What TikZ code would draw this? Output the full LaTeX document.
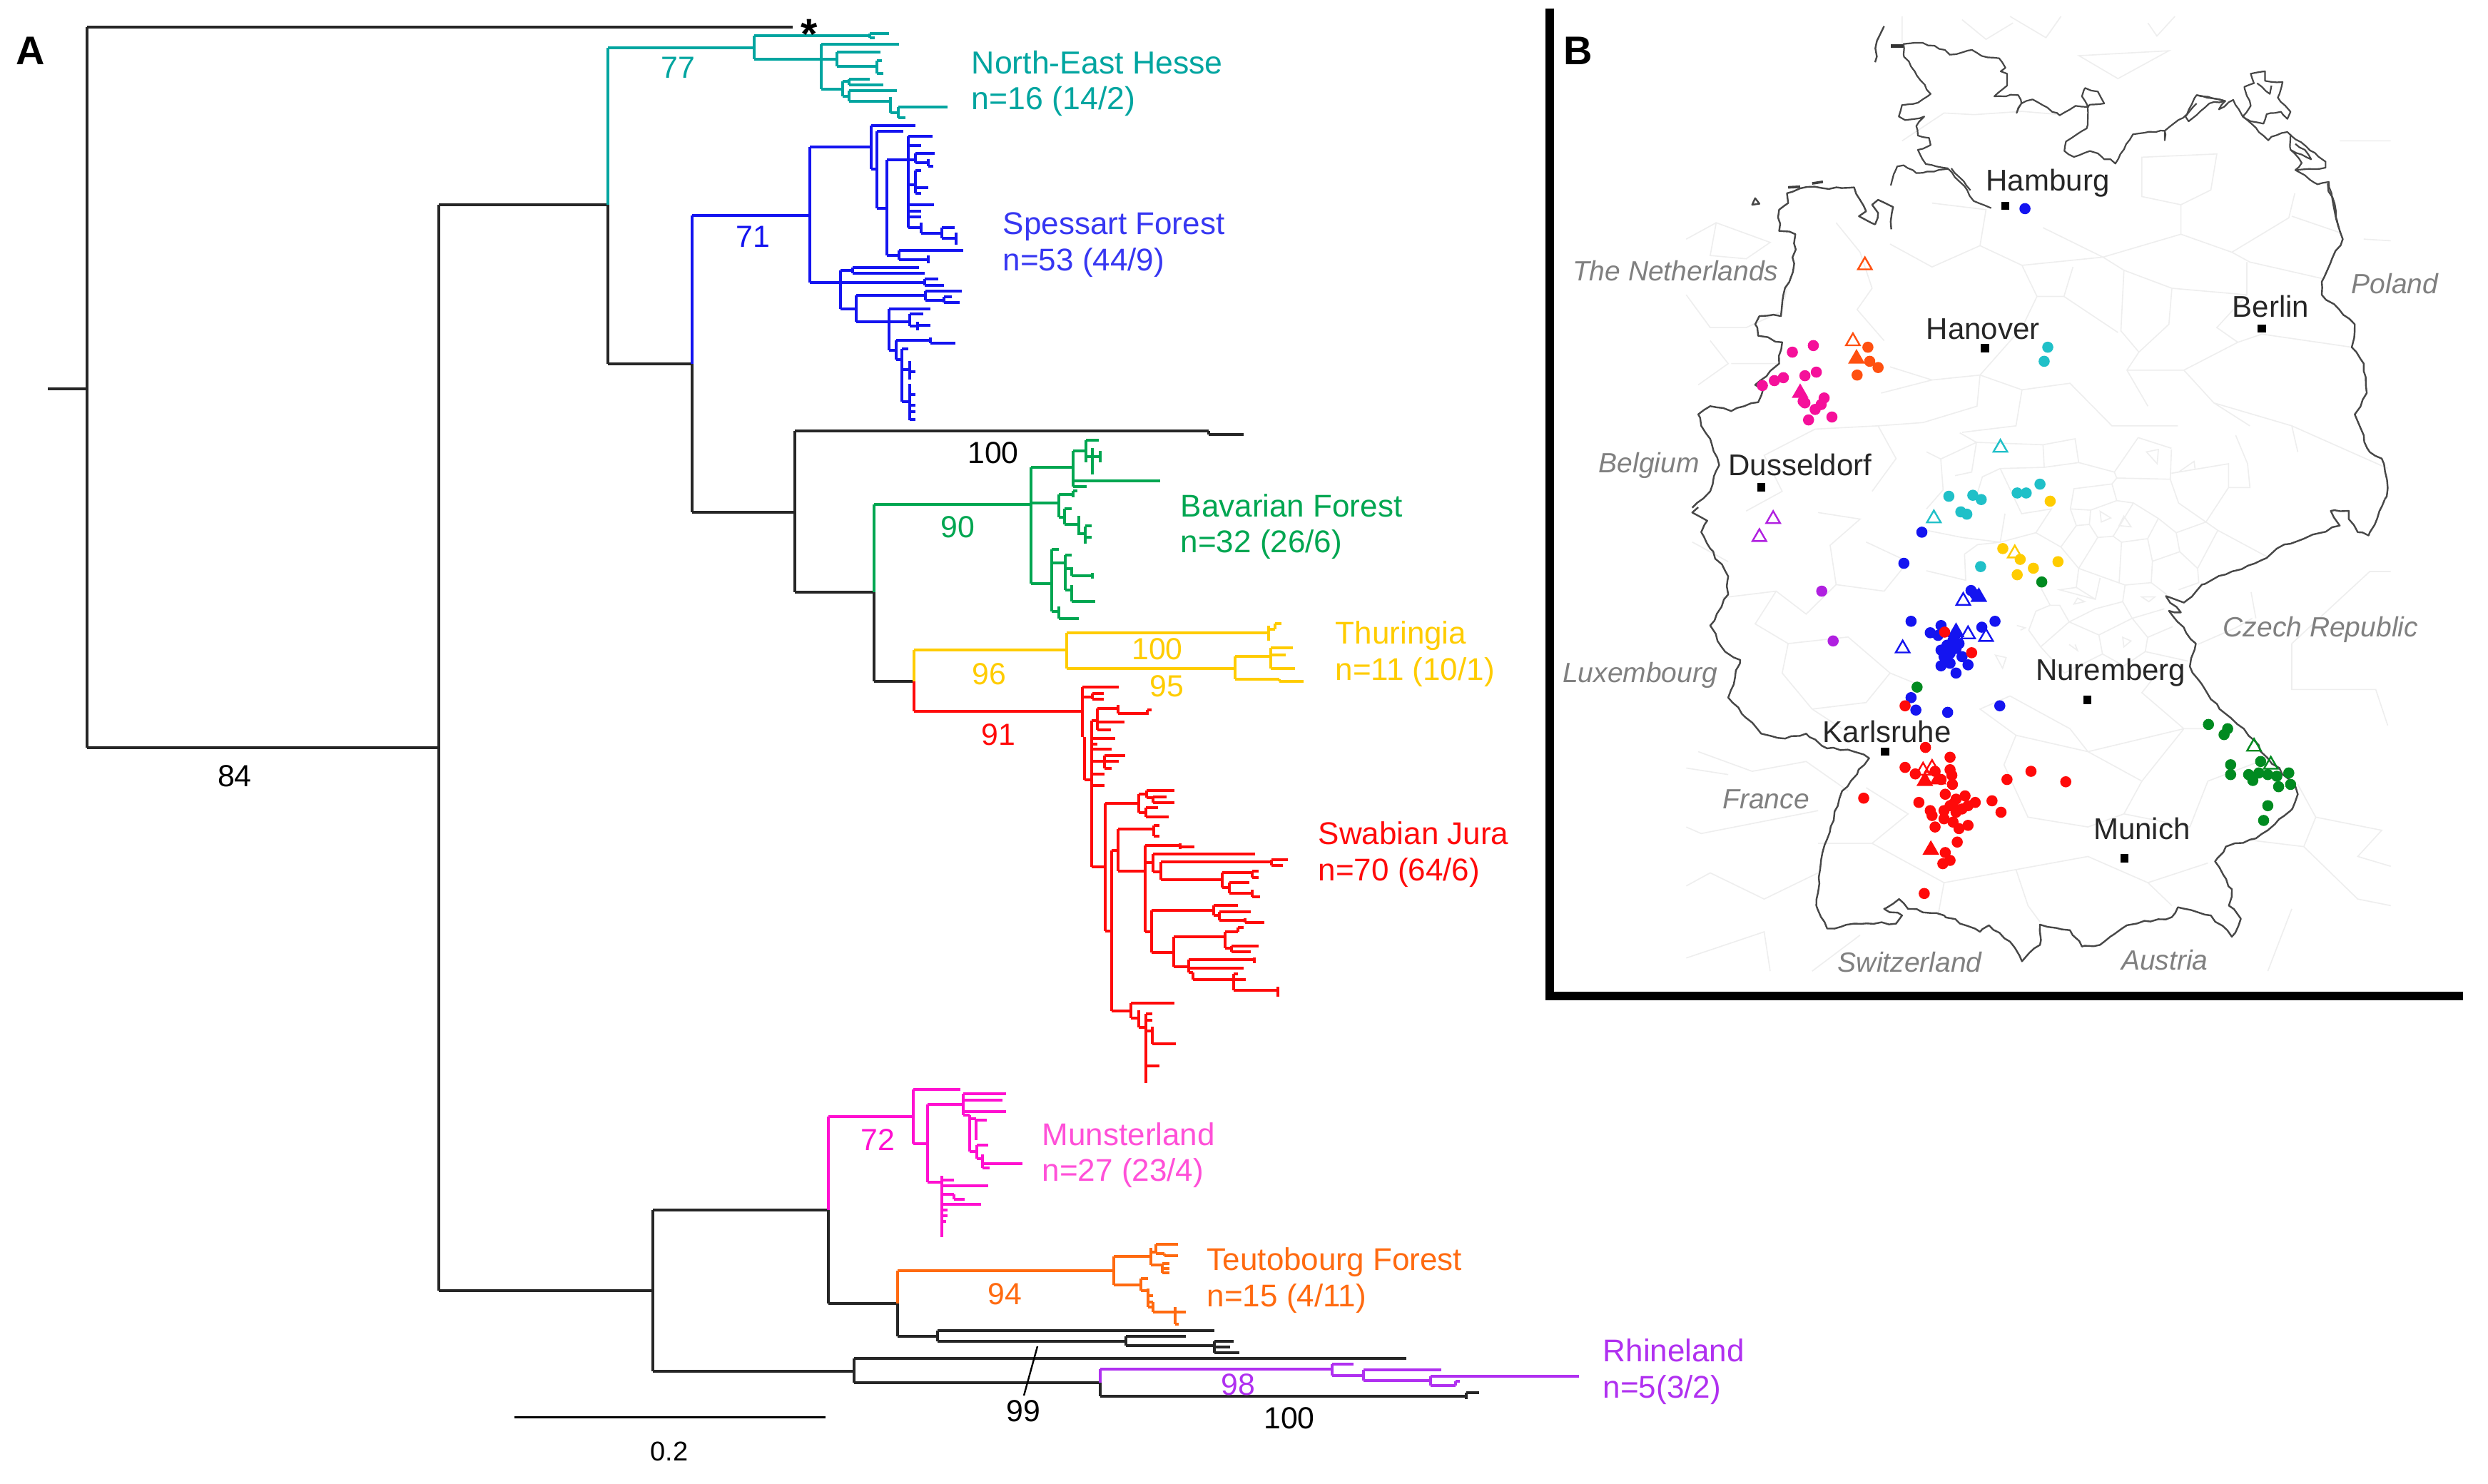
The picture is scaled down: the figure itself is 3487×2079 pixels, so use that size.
\documentclass[tikz,border=0pt]{standalone}
\usepackage{fontspec}
\setmainfont{Liberation Sans}
\usetikzlibrary{shapes.geometric,decorations.pathmorphing}
\definecolor{cteal}{HTML}{00A5A0}
\definecolor{cblue}{HTML}{1414F0}
\definecolor{cgreen}{HTML}{00A651}
\definecolor{cyell}{HTML}{FFCC00}
\definecolor{cred}{HTML}{FF0A0A}
\definecolor{cmag}{HTML}{FF10D0}
\definecolor{cmagl}{HTML}{FF50D8}
\definecolor{corg}{HTML}{FF6A10}
\definecolor{cpur}{HTML}{B030F0}
\definecolor{mpink}{HTML}{F5109A}
\definecolor{morg}{HTML}{FF5010}
\definecolor{mcyan}{HTML}{20C0C8}
\definecolor{mgreen}{HTML}{008A20}
\definecolor{mpur}{HTML}{B020E0}
\definecolor{mlight}{HTML}{EEEEEE}
\definecolor{cntry}{HTML}{808080}
\newcommand{\treepart}[3]{%
  \foreach \yy/\xa/\xb in {#2} \draw[treeline,#1] (\xa,\yy) -- (\xb,\yy);
  \foreach \xx/\ya/\yb in {#3} \draw[treeline,#1] (\xx,\ya) -- (\xx,\yb);}
\newcommand{\mdots}[3]{\foreach \xx/\yy [count=\ii] in {#3} \node[mdot,fill=#2] (#1\ii) at (\xx,\yy) {};}
\newcommand{\mfill}[3]{\foreach \xx/\yy [count=\ii] in {#3} \node[mtri,fill=#2,draw=#2] (#1\ii) at (\xx,\yy) {};}
\newcommand{\mopen}[3]{\foreach \xx/\yy [count=\ii] in {#3} \node[mtri,draw=#2] (#1\ii) at (\xx,\yy) {};}
\newcommand{\mcity}[2]{\foreach \xx/\yy [count=\ii] in {#2} \node[msq] (#1\ii) at (\xx,\yy) {};}
\tikzset{
  treeline/.style={line width=1pt,line cap=square},
  clade/.style={anchor=base west,font=\fontsize{11}{11}\selectfont,inner sep=0pt},
  num/.style={font=\fontsize{10.7}{11}\selectfont,inner sep=0pt},
  city/.style={font=\fontsize{10.5}{11}\selectfont,inner sep=0pt,text=black!85},
  country/.style={font=\fontsize{9.75}{11}\selectfont\itshape,inner sep=0pt,text=cntry},
  panel/.style={font=\fontsize{14}{14}\selectfont\bfseries,inner sep=0pt},
  mdot/.style={circle,inner sep=0pt,minimum size=3.9pt},
  mtri/.style={regular polygon,regular polygon sides=3,inner sep=0pt,minimum size=5.6pt,line width=0.6pt},
  msq/.style={rectangle,fill=black,inner sep=0pt,minimum size=2.9pt},
  border/.style={draw=black!72,line width=0.6pt,line join=round,decorate,decoration={random steps,segment length=2.5pt,amplitude=0.5pt}},
  fineborder/.style={draw=black!72,line width=0.55pt,line join=round,decorate,decoration={random steps,segment length=2pt,amplitude=0.3pt}},
  vor/.style={draw=mlight,line width=0.4pt},
  z5/.style={shift={(2170,0)},xscale=0.8403,yscale=0.4591},
  z6/.style={shift={(2170,700)},xscale=0.8403,yscale=0.4591},
  z7/.style={shift={(2650,20)},xscale=0.4464,yscale=0.3333},
  z8/.style={shift={(2700,600)},xscale=0.3333,yscale=0.3333}
}
\begin{document}
\begin{tikzpicture}[x=0.25pt,y=-0.25pt]
\useasboundingbox[fill=white] (0,0) rectangle (3487,2079);
\pgfmathsetseed{7}
% ---------- tree: backbone
\treepart{black!85}{545/67/122,38/122/1111,1048/122/615,287/615/852,510/852/970,718/970/1114,604/1114/1694,609/1694/1743,830/1114/1225,955/1225/1281,1809/615/915,1696/915/1161,1827/1161/1258,1873/1258/1314,1865/1314/1702,1880/1314/1578,1873/1578/1662,1886/1578/1702,1880/1702/1729,1896/1702/1737,1888/1702/1724,1922/915/1197,1904/1197/1971,1938/1197/1542,1957/1542/2055,1952/2055/2073}{122/38/1048,615/287/1809,852/287/510,970/510/718,1114/604/830,1694/604/609,1225/830/955,915/1696/1922,1161/1696/1827,1258/1827/1873,1314/1865/1880,1578/1873/1886,1702/1880/1896,1197/1904/1938,1542/1938/1957,2055/1952/1961}
% teal
\treepart{cteal}{67/852/1057,50/1057/1219,47/1219/1246,53/1219/1226,83/1057/1151,62/1151/1260,83/1151/1173,73/1173/1234,93/1173/1229,85/1229/1236,103/1229/1238,125/1151/1181,114/1181/1190,111/1190/1219,119/1190/1238,135/1181/1190,127/1190/1257,142/1190/1248,158/1248/1259,150/1259/1328,165/1259/1269}{852/67/287,1057/50/83,1219/47/53,1151/62/125,1173/73/93,1229/85/103,1181/114/135,1190/111/119,1190/127/142,1248/136/158,1259/150/165}
% blue
\treepart{cblue}{302/970/1135,206/1135/1221,176/1221/1283,237/1221/1229,184/1229/1266,292/1229/1243,224/1243/1273,191/1273/1307,204/1273/1291,224/1273/1283,215/1283/1310,228/1283/1301,233/1301/1308,259/1273/1283,239/1283/1291,263/1283/1301,271/1283/1291,287/1273/1309,296/1273/1291,304/1273/1291,319/1273/1291,327/1291/1320,319/1320/1338,334/1320/1340,358/1243/1260,351/1260/1350,364/1260/1301,396/1135/1296,379/1178/1195,375/1195/1288,383/1195/1296,391/1296/1315,400/1296/1323,433/1178/1200,414/1200/1297,408/1297/1348,421/1297/1323,416/1323/1334,424/1323/1345,451/1200/1246,433/1246/1304,451/1246/1275,440/1275/1294,457/1275/1286,456/1286/1304,491/1246/1256,477/1256/1304,481/1304/1339,504/1256/1264,489/1264/1273,518/1264/1275,521/1275/1283,563/1264/1275,553/1275/1283,568/1275/1283,577/1275/1283,588/1275/1283}{970/302/510,1135/206/396,1221/176/237,1229/184/292,1243/224/358,1273/191/319,1283/215/228,1301/223/233,1283/239/271,1291/312/327,1320/319/334,1340/326/343,1260/351/364,1301/358/369,1178/379/433,1195/375/383,1296/391/400,1200/414/451,1297/408/421,1323/416/424,1246/433/491,1275/440/457,1286/451/463,1256/477/504,1304/473/481,1264/489/563,1275/506/532,1275/538/589}
% green
\treepart{cgreen}{707/1225/1445,655/1445/1504,632/1504/1522,617/1522/1540,640/1522/1542,682/1504/1523,674/1504/1626,705/1445/1484,693/1484/1504,688/1504/1510,725/1484/1492,713/1492/1502,735/1492/1512,748/1512/1521,737/1521/1530,753/1521/1530,818/1445/1474,770/1474/1484,789/1474/1493,778/1493/1502,797/1493/1502,807/1502/1531,827/1493/1502,843/1502/1535,857/1474/1484,867/1484/1512}{1225/707/830,1445/655/818,1504/632/682,1522/617/648,1531/628/665,1542/632/648,1484/693/725,1504/688/697,1492/713/735,1512/723/750,1521/738/762,1474/770/857,1493/778/827,1502/795/807,1531/803/811,1502/820/843,1484/850/867}
% yellow
\treepart{cyell}{911/1281/1495,887/1495/1778,882/1778/1787,874/1787/1796,937/1495/1731,920/1731/1781,908/1781/1812,918/1781/1802,937/1781/1815,952/1731/1793,955/1793/1827}{1281/911/955,1495/887/937,1778/877/898,1787/874/882,1731/920/952,1781/908/937,1793/952/955}
% red
\treepart{cred}{997/1281/1517,963/1517/1568,977/1517/1531,972/1531/1547,980/1531/1547,1093/1520/1530,1010/1530/1538,993/1538/1567,1000/1567/1608,995/1608/1614,1012/1538/1576,1023/1538/1557,1035/1530/1563,1043/1530/1538,1050/1530/1558,1067/1530/1548,1059/1548/1577,1067/1548/1568,1077/1548/1558,1085/1530/1548,1101/1530/1548,1215/1530/1549,1126/1549/1596,1113/1596/1607,1108/1607/1646,1118/1607/1616,1117/1616/1635,1125/1616/1646,1139/1596/1606,1132/1606/1623,1145/1606/1638,1305/1549/1558,1192/1558/1567,1162/1567/1617,1157/1617/1625,1172/1617/1625,1221/1567/1605,1185/1605/1654,1187/1654/1674,1209/1605/1616,1197/1616/1759,1222/1616/1627,1208/1627/1782,1205/1782/1805,1213/1782/1798,1233/1627/1713,1223/1713/1755,1221/1755/1764,1230/1755/1764,1244/1713/1723,1237/1723/1751,1252/1723/1755,1257/1755/1766,1306/1605/1614,1276/1614/1701,1269/1701/1735,1283/1701/1709,1278/1709/1753,1290/1709/1745,1293/1745/1772,1335/1614/1645,1313/1645/1717,1306/1717/1735,1300/1735/1743,1329/1717/1726,1326/1726/1764,1334/1726/1753,1355/1645/1666,1345/1666/1758,1357/1666/1743,1363/1666/1672,1373/1672/1729,1365/1729/1735,1373/1729/1746,1388/1729/1791,1417/1558/1585,1406/1585/1646,1427/1585/1596,1440/1596/1606,1421/1606/1615,1430/1606/1615,1445/1606/1615,1463/1615/1648,1494/1606/1625}{1281/955/997,1517/963/1033,1520/1033/1093,1531/972/980,1530/1010/1215,1538/993/1023,1567/988/1000,1608/995/1002,1548/1059/1077,1549/1126/1305,1596/1113/1139,1607/1108/1118,1616/1117/1125,1606/1132/1145,1558/1192/1417,1567/1162/1221,1617/1157/1172,1605/1185/1306,1654/1182/1190,1616/1197/1222,1627/1208/1233,1782/1205/1213,1713/1223/1244,1755/1221/1230,1723/1237/1252,1755/1247/1257,1614/1276/1335,1701/1269/1283,1709/1278/1290,1745/1287/1293,1645/1313/1355,1717/1306/1329,1735/1300/1306,1726/1326/1334,1666/1345/1363,1758/1342/1350,1672/1363/1373,1729/1365/1388,1791/1383/1397,1585/1406/1427,1596/1416/1440,1606/1421/1518,1615/1439/1463}
% magenta
\treepart{cmag}{1565/1161/1280,1527/1280/1346,1603/1280/1300,1548/1300/1350,1533/1350/1410,1542/1350/1405,1558/1350/1410,1563/1350/1359,1568/1359/1368,1570/1368/1383,1614/1359/1369,1605/1369/1385,1624/1369/1377,1631/1377/1433,1637/1377/1387,1657/1300/1320,1654/1320/1337,1662/1320/1385,1674/1320/1337,1681/1337/1352,1688/1320/1375,1696/1320/1328,1704/1320/1328,1712/1320/1326}{1161/1565/1696,1280/1527/1603,1300/1548/1657,1350/1533/1563,1359/1563/1614,1368/1568/1598,1369/1605/1624,1377/1618/1637,1320/1648/1734,1337/1674/1681}
% orange
\treepart{corg}{1781/1258/1561,1761/1561/1613,1755/1613/1620,1744/1620/1651,1757/1620/1632,1760/1632/1651,1773/1613/1629,1771/1629/1639,1778/1629/1639,1784/1629/1639,1801/1561/1599,1792/1599/1609,1809/1599/1609,1816/1609/1616,1825/1609/1616,1832/1609/1616,1839/1616/1662,1856/1647/1652}{1258/1781/1827,1561/1761/1801,1613/1749/1773,1620/1744/1757,1632/1757/1760,1629/1771/1784,1599/1792/1809,1609/1806/1832,1616/1825/1839,1647/1832/1856}
% purple
\treepart{cpur}{1919/1542/1867,1912/1867/1897,1928/1867/1911,1920/1911/2020,1935/1911/2005,1929/2005/2213,1942/2005/2040,1936/2040/2046}{1542/1919/1938,1867/1912/1928,1911/1920/1935,2005/1929/1942,2040/1936/1942}
% ---------- labels of panel A
\node[panel] (lA) at (43,71) {A};
\node[font=\fontsize{15}{15}\selectfont\bfseries,inner sep=0pt] (star) at (1134,48) {*};
\node[clade,text=cteal,font=\fontsize{11.15}{12}\selectfont] (t1a) at (1361,103) {North-East Hesse};
\node[clade,text=cteal,font=\fontsize{11.15}{12}\selectfont] (t1b) at (1361,153) {n=16 (14/2)};
\node[clade,text=cblue!85!white] (t2a) at (1405,328) {Spessart Forest};
\node[clade,text=cblue!85!white] (t2b) at (1405,379) {n=53 (44/9)};
\node[clade,text=cgreen] (t3a) at (1654,724) {Bavarian Forest};
\node[clade,text=cgreen] (t3b) at (1654,774) {n=32 (26/6)};
\node[clade,text=cyell] (t4a) at (1871,902) {Thuringia};
\node[clade,text=cyell] (t4b) at (1871,953) {n=11 (10/1)};
\node[clade,text=cred] (t5a) at (1847,1183) {Swabian Jura};
\node[clade,text=cred] (t5b) at (1847,1234) {n=70 (64/6)};
\node[clade,text=cmagl] (t6a) at (1460,1605) {Munsterland};
\node[clade,text=cmagl] (t6b) at (1460,1655) {n=27 (23/4)};
\node[clade,text=corg] (t7a) at (1691,1780) {Teutobourg Forest};
\node[clade,text=corg] (t7b) at (1691,1831) {n=15 (4/11)};
\node[clade,text=cpur] (t8a) at (2246,1908) {Rhineland};
\node[clade,text=cpur] (t8b) at (2246,1959) {n=5(3/2)};
\node[num,text=cteal] (n77) at (950,95) {77};
\node[num,text=cblue] (n71) at (1055,332) {71};
\node[num] (n100a) at (1392,635) {100};
\node[num,text=cgreen] (n90) at (1342,739) {90};
\node[num,text=cyell] (n100b) at (1622,910) {100};
\node[num,text=cyell] (n96) at (1386,945) {96};
\node[num,text=cyell] (n95) at (1635,962) {95};
\node[num,text=cred] (n91) at (1399,1030) {91};
\node[num,text=cmag] (n72) at (1230,1598) {72};
\node[num,text=corg] (n94) at (1408,1814) {94};
\node[num,text=cpur] (n98) at (1735,1941) {98};
\node[num] (n99) at (1434,1978) {99};
\node[num] (n100c) at (1807,1988) {100};
\node[num] (n84) at (329,1088) {84};
\coordinate (p99a) at (1454,1887);
\coordinate (p99b) at (1435,1956);
\draw[line width=0.6pt] (p99a) -- (p99b);
\coordinate (sb1) at (721,1986);
\coordinate (sb2) at (1157,1986);
\draw[line width=0.75pt] (sb1) -- (sb2);
\node[font=\fontsize{9.5}{10}\selectfont,inner sep=0pt] (sbl) at (938,2034) {0.2};
% ---------- panel B frame
\coordinate (fr1) at (2172,18);
\coordinate (fr2) at (2172,1396);
\coordinate (fr3) at (3446,1396);
\draw[line width=2.8pt,line cap=rect] (fr1) -- (fr2) -- (fr3);
\node[panel] (lB) at (2212,71) {B};
% ---------- map
\begin{scope}[z8]
\draw[vor] (60,130)--(210,60)--(190,185)--(120,200) (60,130)--(0,100) (60,130)--(70,260)--(0,340) (210,60)--(140,20) (210,60)--(490,70) (490,70)--(495,165)--(310,170)--(235,205)--(215,270) (495,165)--(640,145)--(625,45)--(490,70) (640,145)--(790,185)--(890,40)--(1030,85) (790,185)--(800,210)--(1025,215)--(1030,90) (800,210)--(780,235)--(620,255)--(605,340) (780,235)--(800,305)--(870,315)--(975,380)--(1050,440) (800,305)--(690,345)--(605,340) (605,340)--(630,410)--(685,405)--(720,460)--(785,455) (690,345)--(685,405) (870,315)--(785,455)--(820,480)--(930,465) (975,380)--(930,465)--(950,560)--(1065,520)--(1050,440) (1050,440)--(1175,395)--(1225,430)--(1140,590)--(1065,520) (1175,395)--(1060,315)--(1025,215) (1175,395)--(1270,250)--(1360,250)--(1350,150)--(1300,30) (1270,250)--(1270,150)--(1030,190) (1225,430)--(1430,540) (630,410)--(565,500)--(460,440)--(525,340)--(400,360)--(310,170) (460,440)--(310,480)--(330,360) (310,480)--(215,490)--(160,530)--(165,640)--(0,600) (310,480)--(150,460)--(0,430) (720,460)--(640,590)--(565,500) (640,590)--(835,660)--(945,650)--(950,560) (820,480)--(810,650) (640,590)--(630,670)--(560,680)--(710,720) (630,670)--(710,720)--(730,630) (835,660)--(825,730)--(710,760)--(600,815)--(560,745)--(520,745)--(480,670) (825,730)--(865,800)--(725,870)--(600,815)--(480,920)--(430,850)--(460,770)--(520,745) (865,800)--(1000,760) (945,650)--(1010,700) (865,800)--(930,880)--(1035,835) (930,880)--(920,940)--(1100,980) (725,870)--(740,950)--(580,1030)--(480,920) (920,940)--(830,1000)--(740,950) (1140,910)--(1300,840)--(1370,800) (1140,590)--(1145,650)--(1060,680) (1365,690)--(1385,800)
(925,100)--(975,90)--(970,150)--cycle (730,350)--(775,378)--(735,395)--cycle (830,370)--(860,415)--(810,410)--cycle (1060,185)--(1125,140)--(1130,175) (620,740)--(665,730)--(635,715)--cycle (905,710)--(960,710)--(935,730)--cycle (825,880)--(860,895)--(830,920)--cycle (380,830)--(415,840)--(395,850) (600,910)--(635,935)--(625,910) (290,955)--(335,965)--(320,1010)--cycle;
\end{scope}
\begin{scope}[z5]
\draw[vor] (690,60)--(730,120)--(775,70) (770,50)--(830,115)--(855,50) (1000,70)--(1015,110)--(1045,50) (885,170)--(950,240)--(1035,155)--cycle (590,50)--(590,135) (660,345)--(590,430) (660,345)--(710,350)--(790,340)--(855,350)
(640,620)--(730,640)--(720,750)--(640,815)--(570,745) (825,695)--(925,785)--(1055,715)--(1140,770)--(1235,665)--(1245,590) (1055,715)--(1055,625)--(1105,580)--(1115,470)--(990,480)--(990,600)--(1055,625) (1240,660)--(1320,710) (925,785)--(790,810)--(720,750) (790,810)--(815,905)--(860,905)--(875,815) (925,785)--(960,825)--(1040,880)--(1165,900)--(1165,800) (1140,770)--(1170,800)--(1290,850) (960,825)--(955,1010)--(985,1075) (1040,880)--(1035,990)--(985,1075)--(965,1130)--(1000,1240) (815,905)--(790,1000)--(720,1145)--(640,1160)--(570,1120) (860,905)--(950,1015) (1165,900)--(1115,1000)--(1150,1045)--(1190,1020)--(1340,1060) (1150,1045)--(1060,1130)--(965,1130)
(720,1145)--(715,1240)--(625,1290)--(550,1300) (640,1160)--(555,1200) (720,1145)--(790,1190)--(870,1170)--(940,1300)--(1050,1300) (790,1190)--(780,1300)--(690,1320) (1060,1130)--(1110,1230)--(1240,1300)--(1250,1380) (1110,1230)--(1170,1300)
(280,680)--(370,740)--(330,790)--(270,780)--cycle (230,730)--(280,680) (480,680)--(520,770)--(540,880)--(515,945)--(560,1040) (400,860)--(390,950)--(330,1000)--(270,1000)--(230,900) (270,1040)--(300,1110)--(250,1175) (305,1110)--(385,1110) (445,1310)--(550,1300)--(580,1400)--(540,1500) (445,1310)--(360,1390)--(390,1500)--(330,1560) (1240,1300)--(1400,1430) (1360,730)--(1405,735) (1320,430)--(1405,430);
\draw[border] (240,1550)--(270,1500)--(285,1420)--(270,1340)--(255,1300)--(250,1265)--(270,1240)--(305,1255)--(350,1228)--(358,1190)--(345,1175)--(385,1110)--(390,1045)--(350,1025)--(345,990)--(352,965)--(388,965)--(392,900)--(408,830)--(412,715)--(385,705)--(385,640)--(400,620)--(398,590)--(420,575)--(510,572)--(530,645)--(518,660)--(545,685)--(550,650)--(540,625)--(550,610)--(575,632)--(572,700);
\draw[border] (1300,560)--(1325,730)--(1290,860)--(1290,900)--(1345,990)--(1340,1060)--(1360,1110)--(1365,1200)--(1345,1265)--(1370,1380)--(1390,1400)--(1400,1490)--(1395,1524);
\draw[border] (560,80)--(548,125)--(545,190);
\draw[border] (345,605)--(352,622)--(340,625)--cycle;
\draw[black!75,line width=0.9pt] (400,572)--(420,570) (440,560)--(458,555);
\mcity{cz}{762/628,728/1063,1190/1003,355/1487}
\mdots{bz}{cblue}{795/637}
\mdots{pk}{mpink}{407/1075,442/1055,357/1177,377/1162,392/1153,428/1147,447/1136,425/1225,428/1230,460/1215,455/1235,445/1250,473/1273,434/1282}
\mfill{pf}{mpink}{420/1200}
\mdots{og}{morg}{533/1060,536/1103,550/1122,515/1145}
\mfill{of}{morg}{514/1095}
\mopen{oo}{morg}{508/1042,528/810}
\mdots{cy}{mcyan}{833/1060,827/1103,668/1515,708/1512,722/1525,782/1505,797/1505,820/1478}
\mopen{co}{mcyan}{754/1367}
\mdots{yz}{cyell}{837/1530}
\node[city] (cHam) at (833,558) {Hamburg};
\node[city] (cHan) at (725,1005) {Hanover};
\node[city] (cBer) at (1205,935) {Berlin};
\node[city] (cDus) at (420,1420) {Dusseldorf};
\node[country] (lNL) at (212,826) {The Netherlands};
\node[country] (lPL) at (1412,865) {Poland};
\node[country] (lBE) at (168,1420) {Belgium};
\end{scope}
\begin{scope}[z7]
\draw[black!80,line width=1.2pt] (0,133)--(40,133);
\draw[fineborder] (0,720)--(20,640)--(40,635)--(80,668)--(180,650)--(240,740)--(260,785)--(315,815);
\draw[fineborder] (190,648)--(250,740);
\draw[fineborder] (180,648)--(110,630)--(85,570)--(125,550)--(120,520)--(85,510)--(80,470)--(105,430)--(45,445)--(25,430)--(35,382)--(85,372)--(125,335)--(75,240)--(40,170)--(40,125)--(100,120)--(170,150)--(185,170)--(225,160)--(255,150)--(285,175)--(340,185)--(360,225)--(345,240)--(365,250)--(365,300)--(325,345)--(400,340)--(410,375)--(395,415)--(410,375)--(445,358)--(530,425)--(580,385)--(620,390)--(600,345)--(610,310)--(650,325)--(670,375)--(625,380)--(618,390)--(615,480)--(550,535)--(545,575)--(575,600)--(625,575)--(650,585)--(670,610)--(690,610)--(705,628)--(760,505)--(860,490)--(860,530)--(860,490)--(930,420)--(960,340)--(1050,365)--(1030,400)--(1075,360)--(1105,430)--(1185,530)--(1195,515)--(1245,495)--(1365,620)--(1365,645)--(1270,655)--(1340,715)--(1375,705)--(1405,895);
\draw[fineborder] (960,340)--(1050,365)--(1000,375)--(935,450)--(925,430)--(960,375);
\draw[fineborder] (1130,250)--(1175,240)--(1175,280)--(1230,285)--(1215,350)--(1255,410)--(1245,440)--(1225,410)--(1180,420)--(1170,460)--(1130,450)--(1105,430)--(1130,385)--(1110,305)--(1140,290)--cycle;
\draw[fineborder] (1150,290)--(1190,335)--(1195,300);
\draw[fineborder] (1255,505)--(1255,570)--(1290,625)--(1270,655) (1255,570)--(1290,590)--(1320,610)--(1300,570)--(1270,545);
\end{scope}
\begin{scope}[z6]
\draw[vor] (290,300)--(380,280)--(430,350)--(480,260)--(560,280)--(600,190)--(530,130) (380,280)--(345,380)--(400,440)--(390,530)--(440,640) (400,440)--(500,420)--(570,530)--(530,620)--(440,640) (240,130)--(300,190) (440,640)--(490,700) (570,530)--(610,560) (480,260)--(470,140)--(520,60)--(450,40) (1240,440)--(1240,580)--(1380,580)--(1400,690) (1240,440)--(1370,220)--(1405,220) (1020,520)--(990,590)--(1060,700)--(1100,700) (770,600)--(720,640)--(780,720)--(900,770)--(1060,700) (900,770)--(870,700)--(770,600) (780,720)--(760,810)--(800,970)--(900,1000)--(960,960)--(1070,1000) (900,770)--(990,860)--(1060,700) (990,860)--(960,960) (1070,1000)--(1100,860)--(1200,790)
(1250,870)--(1280,970)--(1390,1010)--(1350,1090)--(1405,1120) (1280,970)--(1260,1060)--(1350,1220)--(1405,1240) (1260,1060)--(1170,1040) (1240,1250)--(1200,1440)
(450,1050)--(540,1050)--(600,960)--(530,880) (540,1050)--(660,1170)--(780,1130)--(900,1090)--(1000,1170)--(1100,1110) (660,1170)--(650,1270) (780,1130)--(800,1240)--(820,1290) (1000,1170)--(1040,1240)
(230,1000)--(255,1020)--(450,950) (230,1180)--(270,1140)--(360,1220)--(450,1140) (230,1400)--(360,1320)--(370,1440) (520,1330)--(440,1440) (230,820)--(300,840) (250,770)--(340,830)--(430,800)--(500,890);
\draw[border] (1395,0)--(1368,110)--(1350,100)--(1335,60)--(1335,35)--(1305,35)--(1320,80)--(1260,120)--(1215,150)--(1190,185)--(1140,220)--(1090,260)--(1060,315)--(1030,295)--(1055,345)--(1035,340)--(1080,440)--(1070,510)--(1105,610)--(1130,655)--(1160,700)--(1200,790)--(1245,870)--(1250,900)--(1238,950)--(1200,1010)--(1180,1035)--(1130,1060)--(1112,1105)--(1140,1190)--(1135,1240)--(1155,1280)--(1140,1335)--(1105,1270)--(1050,1245)--(1040,1275)--(965,1300)--(920,1360)--(890,1365)--(870,1315)--(820,1298)--(820,1360)--(790,1410)--(770,1350)--(735,1300)--(720,1320)--(660,1270)--(600,1250)--(585,1220)--(560,1250)--(590,1270)--(580,1295)--(510,1295)--(465,1310)--(447,1240)--(455,1100)--(490,890)--(535,790)--(510,770)--(465,760)--(430,715)--(395,730)--(355,715)--(300,605)--(320,490)--(295,465)--(270,385)--(300,290)--(300,235)--(270,150)--(255,100)--(265,65)--(240,40)--(250,24);
\mcity{dz}{899/612,562/770,961/1095}
\mdots{cb}{mcyan}{688/38,698/45,721/205}
\mopen{cc}{mcyan}{643/58}
\mdots{ya}{cyell}{758/150,787/183,809/210,850/190,782/230}
\mopen{yo}{cyell}{778/165}
\mdots{gr}{mgreen}{823/252,615/573,1101/687,1133/700,1127/718,1138/810,1138/840,1188/800,1168/840,1175/858,1185/835,1200/840,1215/845,1235/835,1218/877,1238/870,1200/935,1193/980}
\mopen{go}{mgreen}{1177/755,1205/810}
\mdots{pu}{mpur}{456/280,475/432}
\mopen{po}{mpur}{375/60,352/115}
\mdots{bl}{cblue}{623/100,593/195,705/278,712/290,605/372,655/385,723/390,745/372,637/407,650/415,680/410,675/430,665/445,655/460,670/470,680/455,660/480,690/480,655/508,680/530,700/505,670/500,685/440,605/605,613/643,666/650,753/630}
\mfill{bf}{cblue}{718/298,680/405}
\mopen{bo}{cblue}{692/310,700/412,730/420,591/455}
\mdots{ra}{cred}{661/405,706/468,595/630,629/757,670/787,595/818,612/838,645/830,670/825,673/842,655/855,674/870,526/912,662/900,618/925,637/950,640/965,660/950,660/975,675/985,680/955,695/905,680/915,675/930,712/925,700/935,690/945,670/935,740/920,755/955,645/1000,685/1005,700/995,682/1046,662/1078,670/1102,658/1112,627/1203,765/855,805/830,863/862}
\mfill{rf}{cred}{638/1070,628/860,650/855}
\mopen{ro}{cred}{625/828,640/820}
\node[city] (cNur) at (938,528) {Nuremberg};
\node[city] (cKar) at (565,708) {Karlsruhe};
\node[city] (cMun) at (990,1005) {Munich};
\node[country] (lCZ) at (1288,398) {Czech Republic};
\node[country] (lLU) at (153,536) {Luxembourg};
\node[country] (lFR) at (363,915) {France};
\node[country] (lCH) at (603,1412) {Switzerland};
\node[country] (lAT) at (1028,1405) {Austria};
\end{scope}
\end{tikzpicture}
\end{document}
